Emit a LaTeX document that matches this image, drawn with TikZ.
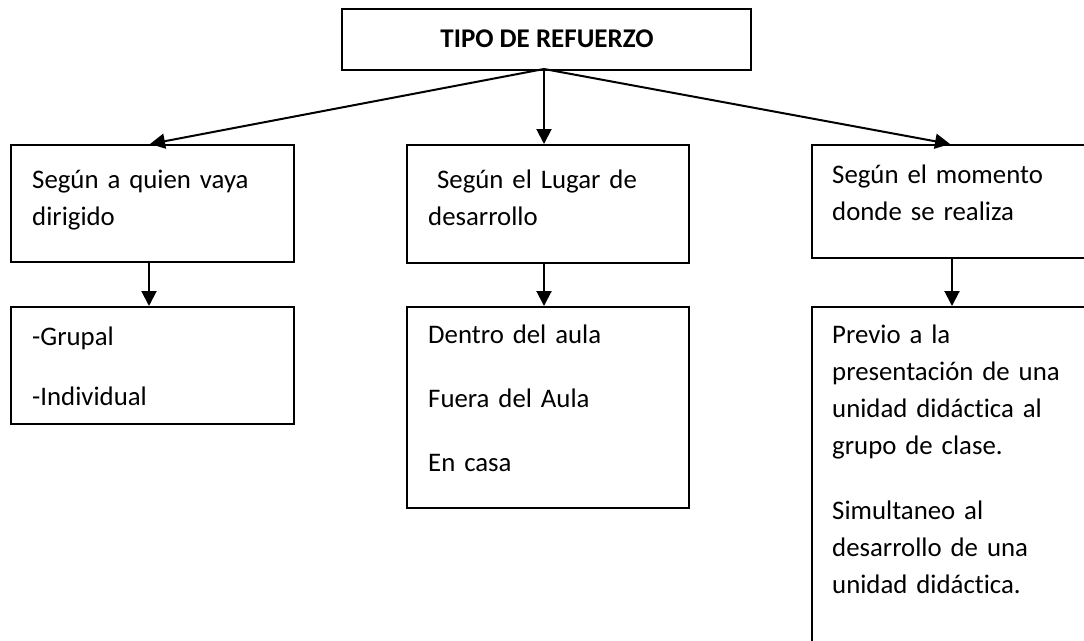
\documentclass[tikz,border=0pt]{standalone}
\usepackage{fontspec}
\setmainfont{Carlito}[Ligatures=NoCommon]
\usetikzlibrary{arrows.meta}
\begin{document}
\begin{tikzpicture}[x=1pt,y=-1pt,
  box/.style={draw=black, line width=2pt, rectangle, inner sep=0pt, anchor=north west},
  txt/.style={inner sep=0pt, anchor=base west, align=left, text width=270pt,
    font=\fontsize{26.8}{37}\selectfont},
  ttl/.style={inner sep=0pt, anchor=base, font=\bfseries\fontsize{27}{32}\selectfont},
  arr/.style={line width=2pt, -{Triangle[length=15pt,width=15pt]}}]
\useasboundingbox (0,0) rectangle (1084,640);
\clip (0,0) rectangle (1084,640);
% top
\node[box, minimum width=409pt, minimum height=61pt] (top) at (341,8) {};
\node[ttl] (toptxt) at (547,47) {TIPO DE REFUERZO};
\coordinate (apex) at (544,69);
% level 1 boxes
\node[box, minimum width=283pt, minimum height=117pt] (b1) at (10,144) {};
\node[box, minimum width=282pt, minimum height=118pt] (b2) at (406,144) {};
\node[box, minimum width=300pt, minimum height=113pt] (b3) at (811,144) {};
\node[txt] (t1) at (32,188) {Según a quien vaya\\dirigido};
\node[txt] (t2) at (428,188) {\ Según el Lugar de\\desarrollo};
\node[txt] (t3) at (832,183) {Según el momento\\donde se realiza};
% level 2 boxes
\node[box, minimum width=283pt, minimum height=117pt] (c1) at (10,306) {};
\node[box, minimum width=282pt, minimum height=201pt] (c2) at (406,306) {};
\node[box, minimum width=300pt, minimum height=360pt] (c3) at (811,306) {};
\node[txt] (g1) at (32,345) {-Grupal};
\node[txt] (g2) at (32,405) {-Individual};
\node[txt] (d1) at (428,343) {Dentro del aula};
\node[txt] (d2) at (428,407) {Fuera del Aula};
\node[txt] (d3) at (428,471) {En casa};
\node[txt] (p1) at (832,343) {Previo a la\\presentación de una\\unidad didáctica al\\grupo de clase.};
\node[txt] (p2) at (832,519) {Simultaneo al\\desarrollo de una\\unidad didáctica.};
% arrows
\draw[arr] (apex) -- (b1.north west -| 150,0);
\draw[arr] (apex) -- (b2.north west -| 544,0);
\draw[arr] (apex) -- (b3.north west -| 950,0);
\draw[arr] (b1.south west -| 149,0) -- (c1.north west -| 149,0);
\draw[arr] (b2.south west -| 544,0) -- (c2.north west -| 544,0);
\draw[arr] (b3.south west -| 952,0) -- (c3.north west -| 952,0);
\end{tikzpicture}
\end{document}
